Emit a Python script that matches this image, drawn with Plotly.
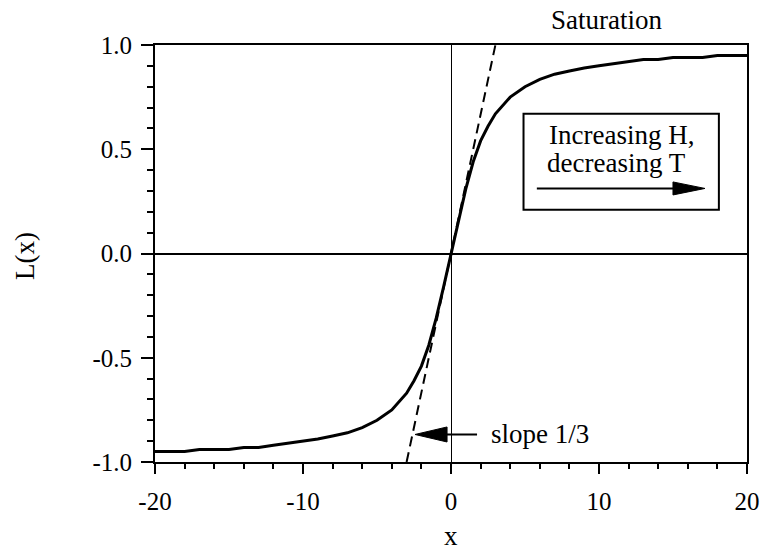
import plotly.graph_objects as go

# Curve values
x_vals = [-20, -19, -18, -17, -16, -15, -14, -13, -12, -11, -10, -9, -8, -7, -6, -5, -4, -3,
          -2.5, -2, -1.5, -1, -0.5, 0, 0.5, 1, 1.5, 2, 2.5,
          3, 4, 5, 6, 7, 8, 9, 10, 11, 12, 13, 14, 15, 16, 17, 18, 19, 20]
l_vals = [-0.95, -0.95, -0.95, -0.94, -0.94, -0.94, -0.93, -0.93, -0.92, -0.91, -0.90, -0.89, -0.875, -0.86, -0.835, -0.80, -0.75, -0.67,
          -0.61, -0.54, -0.44, -0.31, -0.16, 0.0, 0.16, 0.31, 0.44, 0.54, 0.61,
          0.67, 0.75, 0.80, 0.835, 0.86, 0.875, 0.89, 0.90, 0.91, 0.92, 0.93, 0.93, 0.94, 0.94, 0.94, 0.95, 0.95, 0.95]

# Tangent line (slope 1/3)
slope_x = [-3.0, 3.0]
slope_y = [-1.0, 1.0]

x_tickvals = [-20, -10, 0, 10, 20]
x_ticktext = ["-20", "-10", "0", "10", "20"]
y_tickvals = [-1.0, -0.5, 0.0, 0.5, 1.0]
y_ticktext = ["-1.0", "-0.5", "0.0", "0.5", "1.0"]

FONT = "Liberation Serif, Times New Roman, serif"
TICK_SIZE = 25
TEXT_SIZE = 27

fig = go.Figure()
fig.add_trace(go.Scatter(x=slope_x, y=slope_y, mode="lines",
                         line=dict(color="black", width=2, dash="10px,6px"), showlegend=False))
fig.add_trace(go.Scatter(x=x_vals, y=l_vals, mode="lines",
                         line=dict(color="black", width=3), showlegend=False))

fig.update_layout(
    width=764, height=553,
    margin=dict(l=155, r=17, t=45, b=91),
    paper_bgcolor="white", plot_bgcolor="white",
    font=dict(family=FONT, size=TICK_SIZE, color="black"),
    xaxis=dict(range=[-20, 20], tickvals=x_tickvals, ticktext=x_ticktext,
               ticks="outside", ticklen=10, tickwidth=2, tickcolor="black",
               minor=dict(dtick=2, ticks="outside", ticklen=5, tickwidth=2, tickcolor="black", showgrid=False),
               showline=True, linecolor="black", linewidth=2, mirror=True,
               showgrid=False, zeroline=True, zerolinecolor="black", zerolinewidth=1,
               ticklabelstandoff=6, automargin=False),
    yaxis=dict(range=[-1, 1], tickvals=y_tickvals, ticktext=y_ticktext,
               ticks="outside", ticklen=12, tickwidth=2, tickcolor="black",
               minor=dict(dtick=0.1, ticks="outside", ticklen=6, tickwidth=2, tickcolor="black", showgrid=False),
               showline=True, linecolor="black", linewidth=2, mirror=True,
               showgrid=False, zeroline=True, zerolinecolor="black", zerolinewidth=2,
               ticklabelstandoff=4, automargin=False),
)

# Box around the "Increasing H" note
fig.add_shape(type="rect", xref="x", yref="y", x0=4.9, x1=18.1, y0=0.21, y1=0.67,
              line=dict(color="black", width=2), fillcolor="white", layer="above")

fig.add_annotation(x=11.55, y=0.566, xref="x", yref="y", text="Increasing H,",
                   showarrow=False, yanchor="middle", font=dict(size=TEXT_SIZE))
fig.add_annotation(x=11.15, y=0.432, xref="x", yref="y", text="decreasing T",
                   showarrow=False, yanchor="middle", font=dict(size=TEXT_SIZE))

# arrow in the box: shaft + head
fig.add_shape(type="line", xref="x", yref="y", x0=5.8, x1=16.0, y0=0.312, y1=0.312,
              line=dict(color="black", width=2), layer="above")
fig.add_shape(type="path", xref="x", yref="y", xsizemode="pixel", ysizemode="pixel",
              xanchor=17.16, yanchor=0.312, path="M -32,-6.5 L 0,0 L -32,6.5 Z",
              fillcolor="black", line=dict(color="black", width=1), layer="above")

# slope annotation arrow: shaft + head
fig.add_shape(type="line", xref="x", yref="y", x0=1.76, x1=-0.6, y0=-0.868, y1=-0.868,
              line=dict(color="black", width=2), layer="above")
fig.add_shape(type="path", xref="x", yref="y", xsizemode="pixel", ysizemode="pixel",
              xanchor=-2.43, yanchor=-0.868, path="M 32,-7.5 L 0,0 L 32,7.5 Z",
              fillcolor="black", line=dict(color="black", width=1), layer="above")
fig.add_annotation(x=2.57, y=-0.868, xref="x", yref="y", text="slope 1/3", xanchor="left",
                   yanchor="middle", showarrow=False, font=dict(size=TEXT_SIZE))

fig.add_annotation(x=10.5, y=1.06, xref="x", yref="paper", text="Saturation",
                   yanchor="middle", showarrow=False, font=dict(size=TEXT_SIZE))

# Axis titles
fig.add_annotation(x=0, y=-0.178, xref="x", yref="paper", text="x", showarrow=False,
                   yanchor="middle", font=dict(size=TEXT_SIZE))
fig.add_annotation(x=-0.2196, y=0.494, xref="paper", yref="paper", text="L(x)", showarrow=False,
                   xanchor="center", yanchor="middle", textangle=-90, font=dict(size=TEXT_SIZE))

fig.write_html("out.html", config={"displayModeBar": False},
               post_script="document.body.style.margin='0';")
